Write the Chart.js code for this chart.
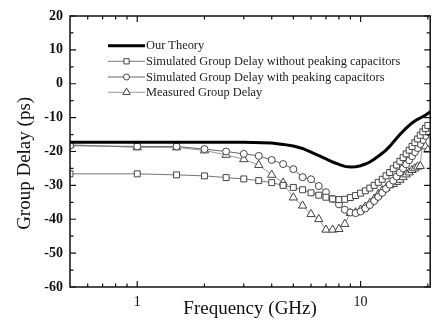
<!DOCTYPE html>
<html>
<head>
<meta charset="utf-8">
<script src="https://cdn.jsdelivr.net/npm/chart.js@4.4.1/dist/chart.umd.min.js"></script>
<style>
  html, body { margin: 0; padding: 0; background: #fff; }
  #wrap { width: 436px; height: 322px; }
</style>
</head>
<body>
<div id="wrap"><canvas id="chartDelay" width="436" height="322"></canvas></div>
<script>
// ============================================
// DATI (GHz / ps)
// ============================================
const FREQ = [0.5, 1, 1.5, 2, 2.5, 3, 3.5, 4, 4.5, 5, 5.5, 6, 6.5, 7, 7.5, 8, 8.5, 9, 9.5, 10,
              10.5, 11, 11.5, 12, 12.5, 13, 13.5, 14, 14.5, 15, 15.5, 16, 16.5, 17, 17.5, 18, 18.5, 19, 19.5, 20];

const THEORY_FREQ = [0.5, 1, 2, 3, 4, 4.5, 5, 5.5, 6, 6.5, 7, 7.5, 8, 8.5, 9, 9.5, 10, 10.5, 11, 11.5,
                     12, 12.5, 13, 13.5, 14, 14.5, 15, 15.5, 16, 16.5, 17, 17.5, 18, 18.5, 19, 19.5, 20, 20.5];
const THEORY = [-17.3, -17.3, -17.3, -17.3, -17.5, -17.9, -18.4, -19.1, -20.2, -21.2, -22.2, -23.1, -23.8, -24.4,
                -24.6, -24.5, -24.2, -23.7, -23.1, -22.3, -21.4, -20.5, -19.6, -18.5, -17.3, -16.1, -15.0, -14.0,
                -13.1, -12.3, -11.6, -11.0, -10.5, -10.1, -9.7, -9.3, -8.8, -8.2];

// Simulated senza peaking (quadrati)
const SIM_NO_PEAK = [-26.6, -26.6, -26.9, -27.2, -27.7, -28.1, -28.6, -29.2, -30.0, -30.6, -31.3, -32.2, -32.9,
                     -33.5, -34.0, -34.2, -34.1, -33.6, -33.0, -32.3, -31.6, -30.8, -30.0, -29.1, -28.2, -27.2,
                     -26.2, -25.1, -24.0, -22.9, -21.8, -20.7, -19.6, -18.5, -17.4, -16.3, -15.2, -14.2, -13.2, -12.3];

// Simulated con peaking (cerchi)
const SIM_PEAK = [-18.3, -18.5, -18.5, -19.3, -20.0, -20.7, -21.3, -22.5, -23.7, -25.2, -27.6, -28.2, -30.2,
                  -32.0, -34.0, -35.6, -37.2, -38.0, -38.2, -37.7, -36.8, -35.8, -34.6, -33.4, -32.2, -31.0,
                  -29.8, -28.6, -27.4, -26.2, -25.0, -23.8, -22.6, -21.4, -20.2, -19.0, -17.8, -16.6, -15.4, -14.2];

// Misurato (triangoli)
const MEASURED = [-18.0, -18.8, -18.8, -19.7, -21.0, -22.3, -24.0, -26.9, -29.2, -33.6, -36.0, -38.5, -40.0,
                  -43.1, -43.1, -42.9, -41.4, -38.2, -38.0, -37.2, -36.3, -35.2, -34.0, -32.6, -31.5, -30.8,
                  -30.0, -29.6, -29.0, -28.4, -27.6, -26.8, -26.2, -25.5, -25.0, -24.5, -24.3, -15.6, -18.5, -19.5];

const X_LABEL_TICKS = [1, 10];
const X_MINOR_TICKS = [0.6, 0.7, 0.8, 0.9, 2, 3, 4, 5, 6, 7, 8, 9, 20];
const Y_MAJOR_TICKS = [-60, -50, -40, -30, -20, -10, 0, 10, 20];
const Y_MINOR_TICKS = [-55, -45, -35, -25, -15, -5, 5, 15];

const LEGEND_LABELS = ['Our Theory', 'Simulated Group Delay without peaking capacitors',
                       'Simulated Group Delay with peaking capacitors', 'Measured Group Delay'];

const SERIF = "'Liberation Serif', 'DejaVu Serif', serif";

const pairs = (xs, ys) => xs.map((f, i) => ({ x: f, y: ys[i] }));

// ============================================
// PLUGIN: cornice + tacche interne
// ============================================
const framePlugin = {
    id: 'frame',
    afterDatasetsDraw(chart) {
        const { ctx, chartArea: a, scales: { x, y } } = chart;
        ctx.save();
        ctx.strokeStyle = '#111';
        ctx.lineWidth = 1.5;
        ctx.strokeRect(a.left, a.top, a.right - a.left, a.bottom - a.top);
        ctx.lineWidth = 1.2;
        ctx.beginPath();
        const xTick = (v, len) => {
            const px = x.getPixelForValue(v);
            ctx.moveTo(px, a.bottom); ctx.lineTo(px, a.bottom - len);
            ctx.moveTo(px, a.top); ctx.lineTo(px, a.top + len);
        };
        const yTick = (v, len) => {
            const py = y.getPixelForValue(v);
            ctx.moveTo(a.left, py); ctx.lineTo(a.left + len, py);
            ctx.moveTo(a.right, py); ctx.lineTo(a.right - len, py);
        };
        X_LABEL_TICKS.forEach(v => xTick(v, 6));
        X_MINOR_TICKS.forEach(v => xTick(v, 3.5));
        Y_MAJOR_TICKS.forEach(v => yTick(v, 6));
        Y_MINOR_TICKS.forEach(v => yTick(v, 3.5));
        ctx.stroke();
        ctx.restore();
    }
};

// ============================================
// PLUGIN: legenda dentro il grafico
// ============================================
const legendPlugin = {
    id: 'insideLegend',
    afterDatasetsDraw(chart) {
        const { ctx } = chart;
        const rows = [45.7, 61.3, 77, 92.3];
        const x0 = 108, x1 = 145;
        ctx.save();
        chart.data.datasets.forEach((ds, i) => {
            const yy = rows[i];
            ctx.strokeStyle = ds.borderColor;
            ctx.lineWidth = ds.borderWidth;
            ctx.beginPath();
            ctx.moveTo(x0, yy); ctx.lineTo(x1, yy);
            ctx.stroke();
            if (ds.pointRadius > 0) {
                ctx.fillStyle = '#fff';
                ctx.strokeStyle = ds.pointBorderColor;
                ctx.lineWidth = 1;
                Chart.helpers.drawPoint(ctx, {
                    pointStyle: ds.pointStyle, radius: ds.pointRadius - 0.5, rotation: 0, borderWidth: 1
                }, (x0 + x1) / 2, yy);
            }
            ctx.fillStyle = '#222';
            ctx.font = '12.4px ' + SERIF;
            ctx.textBaseline = 'middle';
            ctx.textAlign = 'left';
            ctx.fillText(ds.label, x1 + 1, yy + 0.5);
        });
        ctx.restore();
    }
};

// ============================================
// GRAFICO
// ============================================
new Chart(document.getElementById('chartDelay'), {
    type: 'line',
    data: {
        datasets: [{
            label: LEGEND_LABELS[0],
            data: pairs(THEORY_FREQ, THEORY),
            borderColor: '#000',
            borderWidth: 3,
            pointRadius: 0
        }, {
            label: LEGEND_LABELS[1],
            data: pairs(FREQ, SIM_NO_PEAK),
            borderColor: '#777',
            borderWidth: 1,
            pointStyle: 'rect',
            pointRadius: 4.2,
            pointBorderWidth: 1,
            pointBorderColor: '#444',
            pointBackgroundColor: '#fff'
        }, {
            label: LEGEND_LABELS[2],
            data: pairs(FREQ, SIM_PEAK),
            borderColor: '#666',
            borderWidth: 1,
            pointStyle: 'circle',
            pointRadius: 3.5,
            pointBorderWidth: 1,
            pointBorderColor: '#444',
            pointBackgroundColor: '#fff'
        }, {
            label: LEGEND_LABELS[3],
            data: pairs(FREQ, MEASURED),
            borderColor: '#999',
            borderWidth: 1,
            pointStyle: 'triangle',
            pointRadius: 4.8,
            pointBorderWidth: 1,
            pointBorderColor: '#444',
            pointBackgroundColor: '#fff'
        }]
    },
    options: {
        responsive: false,
        animation: false,
        layout: { padding: { top: 16, right: 3, left: 0, bottom: 0 } },
        plugins: {
            legend: { display: false },
            tooltip: { enabled: false }
        },
        scales: {
            x: {
                type: 'logarithmic',
                min: 0.5,
                max: 20.5,
                grid: { display: false, drawTicks: false },
                border: { display: false },
                afterBuildTicks: s => { s.ticks = X_LABEL_TICKS.map(v => ({ value: v })); },
                afterFit: s => { s.height = 35; },
                ticks: {
                    autoSkip: false,
                    maxRotation: 0,
                    padding: 7,
                    color: '#111',
                    font: { family: SERIF, size: 14 },
                    callback: v => String(v)
                },
                title: {
                    display: true,
                    text: 'Frequency (GHz)',
                    color: '#111',
                    font: { family: SERIF, size: 19 },
                    padding: { top: 0, bottom: 2 }
                }
            },
            y: {
                min: -60,
                max: 20,
                grid: { display: false, drawTicks: false },
                border: { display: false },
                afterBuildTicks: s => { s.ticks = Y_MAJOR_TICKS.map(v => ({ value: v })); },
                afterFit: s => { s.width = 70; },
                ticks: {
                    padding: 7,
                    color: '#111',
                    font: { family: SERIF, size: 14, weight: 'bold' }
                },
                title: {
                    display: true,
                    // spazi finali per abbassare un po' il titolo come nell'originale
                    text: 'Group Delay (ps)\u00a0\u00a0\u00a0\u00a0\u00a0',
                    color: '#111',
                    font: { family: SERIF, size: 19 },
                    padding: { top: 14, bottom: 0 }
                }
            }
        }
    },
    plugins: [framePlugin, legendPlugin]
});
</script>
</body>
</html>
